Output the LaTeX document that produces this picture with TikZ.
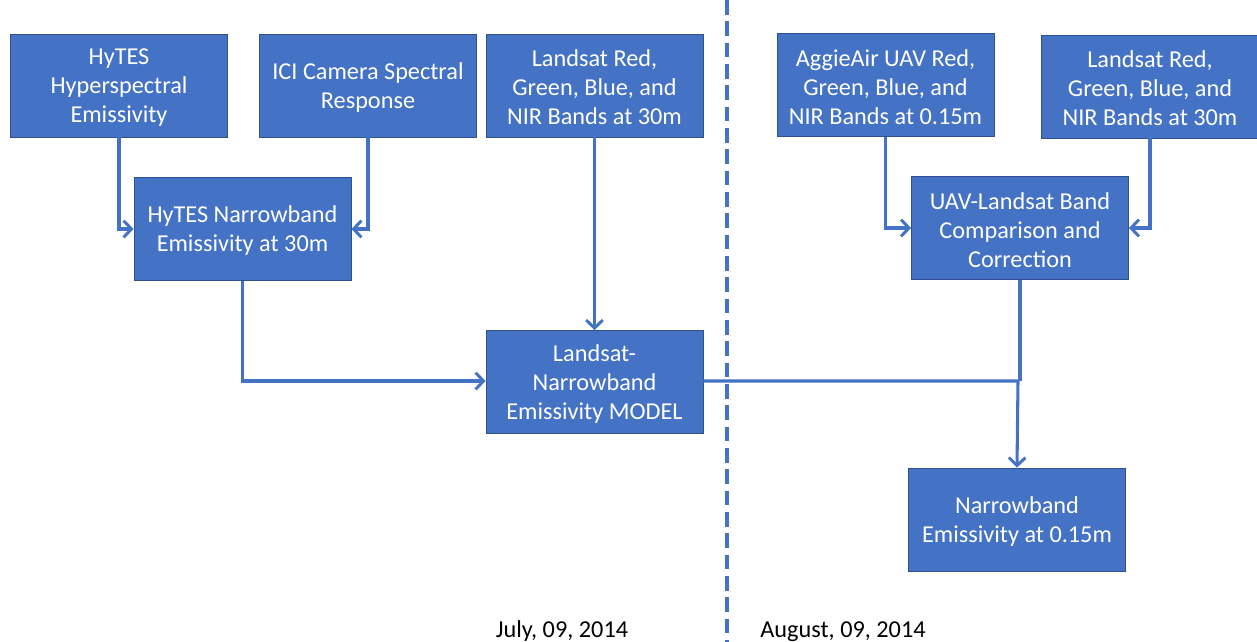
\documentclass[tikz,border=0pt]{standalone}
\usepackage{fontspec}
\setmainfont{Carlito}
\usetikzlibrary{arrows.meta}
\definecolor{boxblue}{HTML}{4472C4}
\definecolor{boxedge}{HTML}{2F528F}
\begin{document}
\begin{tikzpicture}[x=0.75pt,y=-0.75pt,
  blk/.style={draw=boxedge, line width=0.6pt, fill=boxblue, text=white, align=center,
    minimum width=162.75pt, minimum height=77.25pt, inner sep=0pt,
    font=\fontsize{18.2pt}{21.8pt}\selectfont},
  conn/.style={draw=boxblue, line width=2.3pt},
  arr/.style={conn, -{Straight Barb[length=6pt,width=12.5pt,line width=2.2pt]}},
  datelbl/.style={font=\fontsize{18.2pt}{21.8pt}\selectfont, text=black, inner sep=0pt, anchor=base}]
\useasboundingbox (0,0) rectangle (1257,642);
\node[blk] (hytes) at (119,85.5) {\strut HyTES\\Hyperspectral\\Emissivity};
\node[blk] (ici) at (368,85.5) {\strut ICI Camera Spectral\\Response};
\node[blk] (lsl) at (594.5,85.5) {\strut Landsat Red,\\Green, Blue, and\\NIR Bands at 30m};
\node[blk] (aggie) at (885.5,85) {\strut AggieAir UAV Red,\\Green, Blue, and\\NIR Bands at 0.15m};
\node[blk] (lsr) at (1150,86.5) {\strut Landsat Red,\\Green, Blue, and\\NIR Bands at 30m};
\node[blk] (hnb) at (242.5,229) {\strut HyTES Narrowband\\Emissivity at 30m};
\node[blk] (model) at (594.5,382) {\strut Landsat-\\Narrowband\\Emissivity MODEL};
\node[blk] (uav) at (1020,228) {\strut UAV-Landsat Band\\Comparison and\\Correction};
\node[blk] (out) at (1017,519.5) {\strut Narrowband\\Emissivity at 0.15m};
\draw[boxblue, line width=2.6pt, dash pattern=on 11pt off 5pt] (727,0) -- (727,642);
\coordinate (jn) at (1018,381);
\draw[arr] (hytes.south) -- (119,229) -- (hnb.west);
\draw[arr] (ici.south) -- (368,229) -- (hnb.east);
\draw[arr] (lsl.south) -- (model.north);
\draw[arr] (hnb.south) -- (242.5,381) -- (model.west |- 0,381);
\draw[arr] (aggie.south) -- (885.5,228) -- (uav.west);
\draw[arr] (lsr.south) -- (1150,228) -- (uav.east);
\draw[conn] (uav.south) -- (1020,381);
\draw[arr] (model.east |- jn) -- (jn) -- (out.north);
\node[datelbl] (d1) at (562,637) {July, 09, 2014};
\node[datelbl] (d2) at (843,637) {August, 09, 2014};
\end{tikzpicture}
\end{document}
